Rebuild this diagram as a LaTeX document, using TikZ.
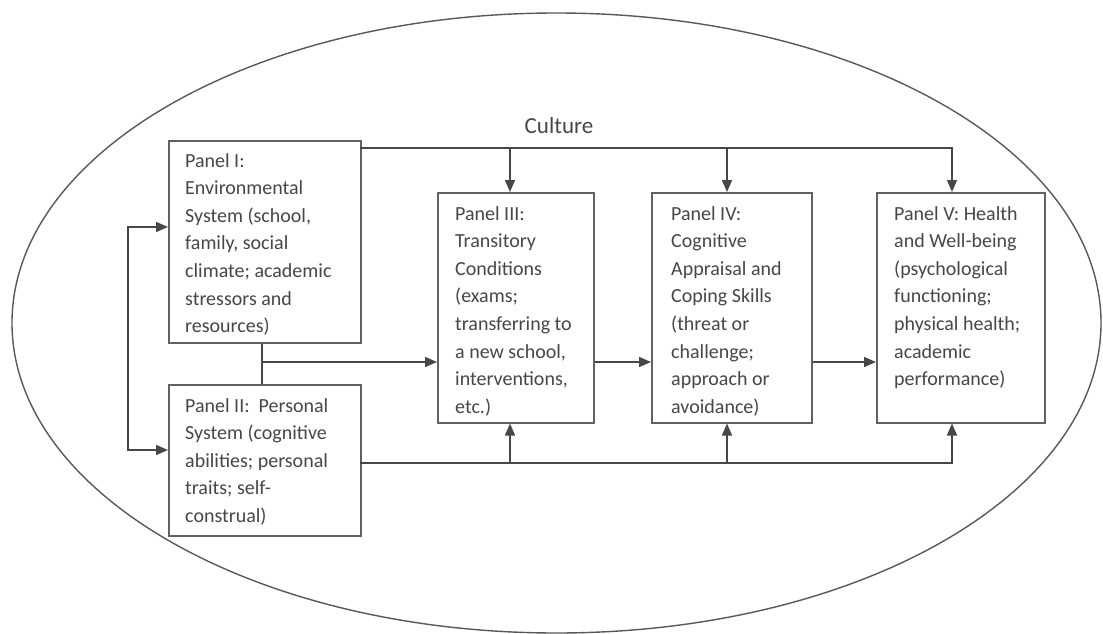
\documentclass[tikz,border=0pt]{standalone}
\usepackage{fontspec}
\setmainfont{Carlito}
\usetikzlibrary{arrows.meta,calc}
\begin{document}
\begin{tikzpicture}[x=1pt,y=-1pt,
  panelbox/.style={draw=black!62,line width=1.5pt,rectangle,inner sep=0pt},
  paneltext/.style={anchor=north west,inner sep=0pt,align=left,text=black!72,
    font=\fontsize{20}{27.6}\selectfont},
  conn/.style={draw=black!72,line width=1.6pt},
  arr/.style={conn,-{Triangle[length=12pt,width=10pt]}},
  darr/.style={conn,{Triangle[length=12pt,width=10pt]}-{Triangle[length=12pt,width=10pt]}}
]
\useasboundingbox (0,0) rectangle (1103,634);
\fill[white] (0,0) rectangle (1103,634);
% culture ellipse
\draw[black!65,line width=1.4pt] (556.5,323) ellipse [x radius=544.5, y radius=310];
\node[text=black!72,font=\fontsize{23}{27}\selectfont] (culture) at (559,126) {Culture};

% boxes
\node[panelbox,minimum width=192pt,minimum height=202pt,anchor=north west] (P1) at (168,140) {};
\node[panelbox,minimum width=192pt,minimum height=151pt,anchor=north west] (P2) at (168,384) {};
\node[panelbox,minimum width=156pt,minimum height=230pt,anchor=north west] (P3) at (437,192) {};
\node[panelbox,minimum width=160pt,minimum height=230pt,anchor=north west] (P4) at (651,192) {};
\node[panelbox,minimum width=168pt,minimum height=230pt,anchor=north west] (P5) at (876,192) {};

% texts
\node[paneltext] (T1) at (185,153) {Panel I:\\ Environmental\\ System (school,\\ family, social\\ climate; academic\\ stressors and\\ resources)};
\node[paneltext] (T2) at (185,398) {Panel II:\ \ Personal\\ System (cognitive\\ abilities; personal\\ traits; self-\\ construal)};
\node[paneltext] (T3) at (455,206) {Panel III:\\ Transitory\\ Conditions\\ (exams;\\ transferring to\\ a new school,\\ interventions,\\ etc.)};
\node[paneltext] (T4) at (671,206) {Panel IV:\\ Cognitive\\ Appraisal and\\ Coping Skills\\ (threat or\\ challenge;\\ approach or\\ avoidance)};
\node[paneltext] (T5) at (894,206) {Panel V: Health\\ and Well-being\\ (psychological\\ functioning;\\ physical health;\\ academic\\ performance)};

% coordinates for connectors
\coordinate (top1) at (360,148);
\coordinate (top3) at (510,148);
\coordinate (top4) at (727,148);
\coordinate (top5) at (952,148);
\coordinate (bot2) at (360,463);
\coordinate (bot3) at (510,463);
\coordinate (bot4) at (727,463);
\coordinate (bot5) at (952,463);
\coordinate (junc) at (262,362);
\coordinate (loopA) at (128,227);
\coordinate (loopB) at (128,450);

% top bus
\draw[arr] (top1) -- (top5) -- (top5 |- P5.north);
\draw[arr] (top3) -- (top3 |- P3.north);
\draw[arr] (top4) -- (top4 |- P4.north);
% bottom bus
\draw[arr] (bot2) -- (bot5) -- (bot5 |- P5.south);
\draw[arr] (bot3) -- (bot3 |- P3.south);
\draw[arr] (bot4) -- (bot4 |- P4.south);
% joint of panel I and II
\draw[conn] (P1.south -| junc) -- (P2.north -| junc);
\draw[arr] (junc) -- (junc -| P3.west);
\draw[arr] (P3.east |- junc) -- (P4.west |- junc);
\draw[arr] (P4.east |- junc) -- (P5.west |- junc);
% left loop
\draw[darr] (P1.west |- loopA) -- (loopA) -- (loopB) -- (P2.west |- loopB);
\end{tikzpicture}
\end{document}
